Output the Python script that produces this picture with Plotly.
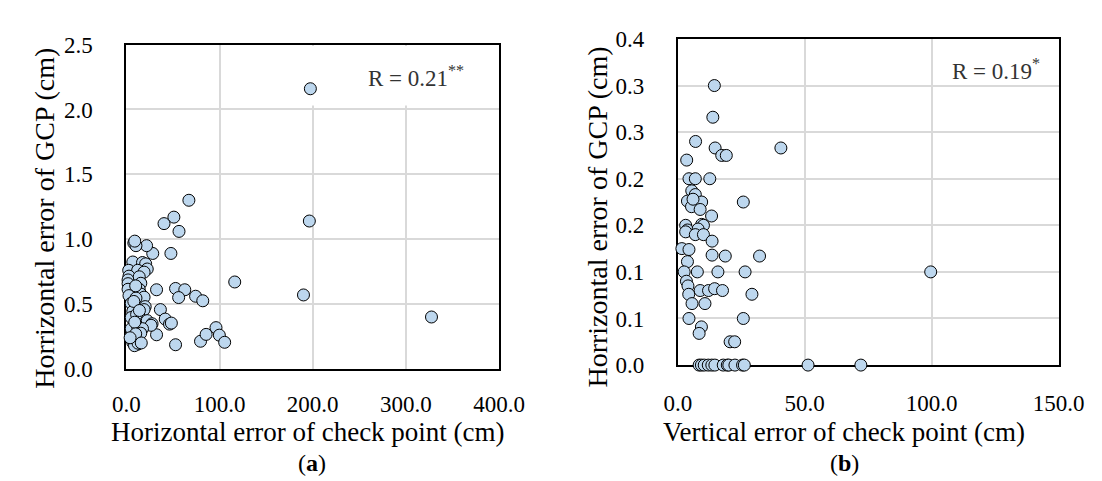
import plotly.graph_objects as go

# ---------------- data ----------------
# Panel (a): horizontal error of check point (cm) vs horizontal error of GCP (cm)
a_x = [197.5, 196.4, 190.1, 327.5, 116.3, 67.1, 51.0, 40.4, 56.5, 47.8, 28.3, 21.7,
       52.8, 62.7, 56.1, 74.3, 82.0, 32.4, 36.5, 41.7, 46.3, 48.3, 32.4, 52.8, 79.6,
       85.6, 96.2, 99.8, 105.5,
       8.0, 10.3, 9.0, 6.9, 17.3, 20.7, 22.4, 2.5, 12.1, 19.0, 2.8, 1.8, 13.8, 15.5,
       1.8, 1.8, 13.8, 2.8, 15.5, 19.0, 10.3, 5.2, 20.2, 6.9, 19.0, 5.2, 15.5, 22.4,
       27.6, 26.5, 5.2, 12.1, 17.3, 15.4, 6.9, 12.1, 8.7, 12.5, 10.0, 8.0, 11.0, 9.0,
       14.0, 10.0, 16.0, 4.0]
a_y = [2.16, 1.14, 0.57, 0.40, 0.67, 1.30, 1.17, 1.12, 1.06, 0.89, 0.89, 0.95,
       0.62, 0.61, 0.55, 0.56, 0.525, 0.61, 0.457, 0.384, 0.345, 0.353, 0.263, 0.186, 0.213,
       0.266, 0.318, 0.26, 0.205,
       0.97, 0.95, 0.985, 0.824, 0.82, 0.81, 0.77, 0.76, 0.76, 0.746, 0.715, 0.686, 0.71, 0.66,
       0.657, 0.614, 0.614, 0.565, 0.577, 0.553, 0.546, 0.505, 0.48, 0.444, 0.457, 0.396, 0.384, 0.372,
       0.348, 0.336, 0.31, 0.324, 0.31, 0.275, 0.203, 0.19, 0.179, 0.198, 0.64, 0.52, 0.42, 0.36,
       0.45, 0.27, 0.2, 0.24]

# Panel (b): vertical error of check point (cm) vs horizontal error of GCP (cm)
b_x = [14.4, 13.8, 7.0, 14.7, 17.3, 19.1, 40.6, 3.5, 4.4, 6.9, 12.6, 5.5, 6.9, 25.8,
       3.8, 5.4, 9.4, 8.8, 6.0, 13.3, 9.4, 10.1, 3.1, 3.8, 8.0, 3.1, 6.9, 10.1, 13.5,
       1.6, 4.4, 13.5, 18.7, 32.2, 3.8, 2.5, 7.7, 15.8, 26.5, 99.6, 3.4, 4.0, 8.8, 12.1,
       14.5, 17.6, 4.3, 29.2, 5.6, 10.7, 4.4, 25.8, 9.3, 8.4, 20.6, 22.4,
       8.4, 9.3, 10.4, 12.0, 13.4, 14.6, 17.9, 19.5, 20.1, 22.5, 25.5, 26.2, 51.3, 72.1]
b_y = [0.30, 0.266, 0.240, 0.233, 0.225, 0.225, 0.233, 0.22, 0.20, 0.20, 0.20, 0.187, 0.183, 0.175,
       0.176, 0.170, 0.175, 0.167, 0.178, 0.16, 0.151, 0.15, 0.15, 0.145, 0.146, 0.143, 0.14, 0.14, 0.133,
       0.125, 0.124, 0.118, 0.117, 0.117, 0.111, 0.10, 0.10, 0.10, 0.10, 0.10, 0.09, 0.085, 0.08, 0.08,
       0.082, 0.08, 0.076, 0.076, 0.066, 0.066, 0.05, 0.05, 0.041, 0.034, 0.025, 0.025,
       0, 0, 0, 0, 0, 0, 0, 0, 0, 0, 0, 0, 0, 0]

a_xticks = [0, 100, 200, 300, 400]
a_xlabels = ["0.0", "100.0", "200.0", "300.0", "400.0"]
a_yticks = [0, 0.5, 1.0, 1.5, 2.0, 2.5]
a_ylabels = ["0.0", "0.5", "1.0", "1.5", "2.0", "2.5"]
b_xticks = [0, 50, 100, 150]
b_xlabels = ["0.0", "50.0", "100.0", "150.0"]
b_yticks = [0, 0.05, 0.10, 0.15, 0.20, 0.25, 0.30, 0.35]
b_ylabels = ["0.0", "0.1", "0.1", "0.2", "0.2", "0.3", "0.3", "0.4"]

# ---------------- figure ----------------
W, H = 1102, 481
FONT = "Liberation Serif"
FILL = "#BDD7EE"

fig = go.Figure()
marker = dict(size=12, color=FILL, line=dict(color="black", width=1))
fig.add_trace(go.Scatter(x=a_x, y=a_y, mode="markers", marker=marker,
                         xaxis="x", yaxis="y", cliponaxis=False, showlegend=False))
fig.add_trace(go.Scatter(x=b_x, y=b_y, mode="markers", marker=marker,
                         xaxis="x2", yaxis="y2", cliponaxis=False, showlegend=False))

def px_x(p):
    return p / W

def px_y(p):
    return 1 - p / H

axis_common = dict(
    showline=True, linecolor="black", linewidth=2, mirror=True,
    showgrid=True, gridcolor="#D9D9D9", gridwidth=1.5,
    zeroline=False, ticks="", layer="below traces",
    tickfont=dict(family=FONT, size=23, color="black"),
    tickmode="array", fixedrange=True,
)

fig.update_layout(
    width=W, height=H,
    margin=dict(l=0, r=0, t=0, b=0),
    paper_bgcolor="white", plot_bgcolor="white",
    font=dict(family=FONT, color="black"),
    xaxis=dict(axis_common, domain=[px_x(108.3), px_x(495)], range=[0, 400],
               tickvals=a_xticks, ticktext=a_xlabels, ticklabelstandoff=14, anchor="y"),
    yaxis=dict(axis_common, domain=[px_y(368), px_y(26)], range=[0, 2.5],
               tickvals=a_yticks, ticktext=a_ylabels, ticklabelstandoff=27, anchor="x"),
    xaxis2=dict(axis_common, domain=[px_x(680.5), px_x(1075.7)], range=[0, 150],
                tickvals=b_xticks, ticktext=b_xlabels, ticklabelstandoff=16, anchor="y2"),
    yaxis2=dict(axis_common, domain=[px_y(364), px_y(20)], range=[0, 0.35],
                tickvals=b_yticks, ticktext=b_ylabels, ticklabelstandoff=27, anchor="x2"),
)

# white text box behind R label in panel (a) (covers gridlines, below markers)
fig.add_shape(type="rect", xref="x", yref="y", x0=198, x1=398.5, y0=2.03, y1=2.49,
              fillcolor="white", line=dict(width=0), layer="between")

ann = []
title_font = dict(family=FONT, size=27, color="black")
ann.append(dict(text="R = 0.21<sup>**</sup>", x=px_x(461), y=px_y(60), xanchor="right", yanchor="middle",
                font=dict(family=FONT, size=23, color="#333333")))
ann.append(dict(text="R = 0.19<sup>*</sup>", x=px_x(1058), y=px_y(52), xanchor="right", yanchor="middle",
                font=dict(family=FONT, size=23, color="#333333")))
ann.append(dict(text="Horrizontal error of GCP (cm)", x=px_x(23), y=px_y(209.5), textangle=-90,
                xanchor="center", yanchor="middle", font=dict(family=FONT, size=28, color="black")))
ann.append(dict(text="Horrizontal error of GCP (cm)", x=px_x(597.5), y=px_y(207.5), textangle=-90,
                xanchor="center", yanchor="middle", font=dict(family=FONT, size=28, color="black")))
ann.append(dict(text="Horizontal error of check point (cm)", x=px_x(297), y=px_y(435),
                xanchor="center", yanchor="middle", font=title_font))
ann.append(dict(text="Vertical error of check point (cm)", x=px_x(853), y=px_y(435),
                xanchor="center", yanchor="middle", font=title_font))
ann.append(dict(text="(<b>a</b>)", x=px_x(301), y=px_y(467),
                xanchor="center", yanchor="middle", font=dict(family=FONT, size=24, color="black")))
ann.append(dict(text="(<b>b</b>)", x=px_x(853), y=px_y(467),
                xanchor="center", yanchor="middle", font=dict(family=FONT, size=24, color="black")))
for a in ann:
    a.update(xref="paper", yref="paper", showarrow=False)
fig.update_layout(annotations=ann)

fig.write_html("out.html")
